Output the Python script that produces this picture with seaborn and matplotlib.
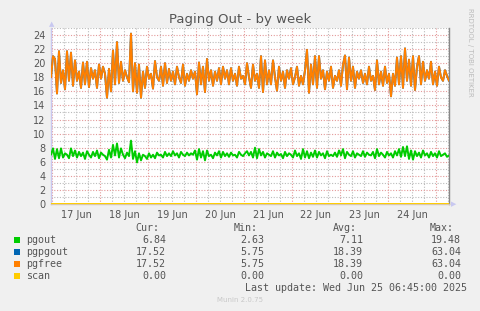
import numpy as np
import pandas as pd
import matplotlib
matplotlib.use("Agg")
import matplotlib.pyplot as plt
import matplotlib.dates as mdates
from matplotlib.ticker import MultipleLocator
import seaborn as sns

# ---- data (hourly samples) ----
start_time = "2025-06-16 23:30"
n_samples = 200

pgfree = [
    18.0, 21.0, 20.6, 15.7, 21.7, 17.2, 19.0, 16.3, 21.7, 17.5,
    21.5, 16.8, 20.4, 17.5, 18.8, 16.5, 20.1, 17.0, 20.2, 16.6,
    19.3, 17.8, 19.0, 16.5, 19.8, 17.8, 19.5, 18.5, 15.1, 19.2,
    16.0, 21.8, 17.0, 23.0, 17.2, 20.2, 17.5, 19.0, 18.0, 17.3,
    24.2, 16.0, 20.0, 15.8, 19.8, 15.1, 18.8, 16.5, 19.5, 17.8,
    18.5, 16.4, 20.3, 18.0, 17.5, 19.5, 16.8, 20.0, 17.2, 19.2,
    17.5, 18.8, 17.0, 19.5, 18.0, 17.2, 19.8, 16.8, 18.5, 17.5,
    19.0, 17.8, 18.8, 15.6, 20.1, 17.0, 19.5, 15.9, 20.6, 17.5,
    19.0, 16.8, 18.8, 17.5, 19.3, 17.0, 19.5, 17.8, 19.0, 17.0,
    19.3, 17.5, 18.5, 16.8, 19.5, 17.8, 18.2, 17.0, 20.0, 18.0,
    16.5, 19.8, 17.5, 18.5, 16.5, 21.0, 15.9, 20.4, 17.0, 19.0,
    17.0, 20.4, 18.0, 16.1, 19.5, 17.5, 18.8, 16.5, 19.0, 17.8,
    19.3, 17.0, 18.0, 19.5, 16.8, 18.2, 17.0, 19.0, 21.9, 15.8,
    19.8, 17.0, 21.0, 16.5, 21.0, 17.8, 19.0, 16.3, 18.8, 17.5,
    19.5, 16.5, 18.2, 17.5, 19.0, 16.8, 19.8, 21.1, 16.3, 20.8,
    17.5, 19.5, 16.5, 18.8, 17.8, 19.0, 17.2, 18.5, 17.0, 19.5,
    17.5, 18.2, 16.2, 20.4, 17.0, 18.8, 16.8, 19.5, 17.2, 18.5,
    15.3, 18.5, 16.8, 20.8, 17.0, 21.0, 16.5, 22.1, 17.5, 20.5,
    16.8, 21.0, 16.2, 19.5, 21.0, 17.0, 20.2, 17.5, 19.0, 17.8,
    20.2, 17.0, 18.8, 16.8, 19.5, 18.0, 17.5, 19.0, 18.2, 17.5,
]
pgpgout = list(pgfree)

pgout = [
    7.0, 7.9, 6.4, 7.8, 6.5, 7.9, 6.6, 7.2, 7.0, 6.5,
    7.9, 6.8, 7.6, 6.6, 7.4, 6.8, 7.3, 6.4, 7.5, 7.0,
    6.6, 7.4, 6.8, 7.6, 6.5, 7.3, 7.0, 6.8, 6.3, 7.7,
    6.6, 8.4, 6.9, 8.6, 6.6, 7.9, 7.0, 6.5, 7.3, 6.8,
    9.0, 6.4, 7.5, 5.9, 7.2, 6.2, 7.0, 6.8, 6.4, 7.2,
    6.6, 7.0, 6.5, 7.3, 6.9, 7.0, 6.6, 7.4, 6.8, 7.2,
    6.8, 7.5, 6.9, 7.2, 6.6, 7.4, 7.0, 6.8, 7.3, 6.9,
    7.2, 7.0, 7.6, 6.3, 7.8, 6.6, 7.5, 6.2, 7.6, 6.8,
    7.0, 6.5, 7.3, 6.9, 7.5, 6.6, 7.4, 6.8, 7.2, 6.7,
    7.3, 6.9, 7.0, 6.6, 7.4, 7.0, 6.8, 7.2, 7.5, 6.9,
    7.4, 6.6, 8.0, 6.5, 7.8, 6.9, 7.4, 6.6, 7.2, 7.0,
    6.8, 7.5, 6.6, 7.3, 6.9, 7.1, 6.5, 7.4, 6.8, 7.2,
    7.0, 6.6, 7.6, 6.8, 7.2, 6.4, 7.8, 6.6, 7.5, 6.5,
    7.3, 6.7, 7.6, 6.6, 7.4, 6.9, 7.2, 6.5, 7.5, 6.8,
    7.0, 6.8, 7.3, 6.7, 7.6, 6.9, 7.8, 6.5, 7.4, 7.0,
    6.8, 7.5, 6.6, 7.2, 7.0, 6.8, 7.5, 6.7, 7.3, 7.0,
    6.9, 7.4, 6.5, 7.8, 6.8, 7.3, 7.0, 6.6, 7.4, 6.9,
    7.2, 6.6, 7.5, 6.9, 7.8, 6.7, 8.1, 6.8, 8.2, 6.4,
    7.6, 6.3, 7.5, 6.8, 7.3, 6.6, 7.6, 6.9, 7.2, 6.6,
    7.4, 6.8, 7.2, 6.6, 7.5, 6.8, 7.0, 7.2, 6.7, 6.9,
]
scan = [0.0] * n_samples

series_names = ["pgout", "pgpgout", "pgfree", "scan"]
series_colors = ["#00CC00", "#0066B3", "#FF8000", "#FFCC00"]
cur_vals = ["6.84", "17.52", "17.52", "0.00"]
min_vals = ["2.63", "5.75", "5.75", "0.00"]
avg_vals = ["7.11", "18.39", "18.39", "0.00"]
max_vals = ["19.48", "63.04", "63.04", "0.00"]
day_labels = ["17 Jun", "18 Jun", "19 Jun", "20 Jun", "21 Jun", "22 Jun", "23 Jun", "24 Jun"]
y_ticks = list(range(0, 25, 2))

title = "Paging Out - by week"
last_update = "Last update: Wed Jun 25 06:45:00 2025"

# ---- build table ----
times = pd.date_range(start_time, periods=n_samples, freq="1h")
df = pd.concat([
    pd.DataFrame({"time": times, "value": scan, "series": "scan"}),
    pd.DataFrame({"time": times, "value": pgpgout, "series": "pgpgout"}),
    pd.DataFrame({"time": times, "value": pgfree, "series": "pgfree"}),
    pd.DataFrame({"time": times, "value": pgout, "series": "pgout"}),
])

sns.set_style("white")
plt.rcParams["font.family"] = ["DejaVu Sans"]

BG = "#F0F0F0"
TXT = "#555555"
fig = plt.figure(figsize=(4.81, 3.11), dpi=100, facecolor=BG)
ax = fig.add_axes([51 / 481, 1 - 204 / 311, 398 / 481, (204 - 28) / 311])
ax.set_facecolor("white")

palette = dict(zip(series_names, series_colors))
for name in ["scan", "pgpgout", "pgfree", "pgout"]:
    sub = df[df["series"] == name]
    sns.lineplot(data=sub, x="time", y="value", color=palette[name],
                 linewidth=1.4, ax=ax, legend=False, zorder=3)

t0 = times[0]
t1 = times[-1]
ax.set_xlim(t0, t1)
ax.set_ylim(0, 25)

# grid
day_starts = pd.date_range("2025-06-17", periods=9, freq="1D")
ax.xaxis.set_major_locator(mdates.HourLocator(byhour=[0]))
ax.xaxis.set_minor_locator(mdates.HourLocator(byhour=[6, 12, 18]))
ax.yaxis.set_major_locator(MultipleLocator(2))
ax.yaxis.set_minor_locator(MultipleLocator(1))
ax.grid(which="minor", color="#BBBBBB", linestyle=(0, (1, 1.5)), linewidth=0.8, zorder=0)
ax.grid(which="major", color="#E39A9A", linestyle=(0, (1, 1.5)), linewidth=0.8, zorder=1)
ax.set_axisbelow(True)

ax.set_yticks(y_ticks)
ax.set_yticklabels([str(v) for v in y_ticks], color=TXT, fontsize=7)
ax.tick_params(axis="both", which="both", length=0, pad=4)
ax.set_xticklabels([])
for i, lab in enumerate(day_labels):
    noon = day_starts[i] + pd.Timedelta(hours=12)
    ax.text(mdates.date2num(noon), -0.9, lab, ha="center", va="top",
            color=TXT, fontsize=7)
ax.set_xlabel("")
ax.set_ylabel("")

ax.spines["top"].set_visible(False)
ax.spines["left"].set_color("#C8C8F0")
ax.spines["bottom"].set_color("#D8C8B0")
ax.spines["right"].set_color("#888888")
for s in ["left", "bottom", "right"]:
    ax.spines[s].set_linewidth(1.0)

# axis arrows
fig.text(51.5 / 481, 1 - 24 / 311, "\u25B2", color="#C8C8F0", fontsize=5, ha="center", va="center")
fig.text(454 / 481, 1 - 204 / 311, "\u25B6", color="#C8C8F0", fontsize=5, ha="center", va="center")

# title and side text
fig.text(240 / 481, 1 - 19 / 311, title, ha="center", va="center", color=TXT, fontsize=9.5)
fig.text(470 / 481, 1 - 52 / 311, "RRDTOOL / TOBI OETIKER", rotation=270, ha="center", va="center",
         color="#BBBBBB", fontsize=5)

# legend table
mono = "DejaVu Sans Mono"
fs = 7.2
hdr_y = 228
fig.text(159 / 481, 1 - hdr_y / 311, "Cur:", ha="right", va="center", family=mono, fontsize=fs, color=TXT)
fig.text(258 / 481, 1 - hdr_y / 311, "Min:", ha="right", va="center", family=mono, fontsize=fs, color=TXT)
fig.text(357 / 481, 1 - hdr_y / 311, "Avg:", ha="right", va="center", family=mono, fontsize=fs, color=TXT)
fig.text(454 / 481, 1 - hdr_y / 311, "Max:", ha="right", va="center", family=mono, fontsize=fs, color=TXT)
row_y = [240, 252, 264, 276]
for name, col, c, mn, av, mx, yy in zip(series_names, series_colors, cur_vals, min_vals,
                                        avg_vals, max_vals, row_y):
    yf = 1 - yy / 311
    fig.patches.append(plt.Rectangle((14 / 481, yf - 3 / 311), 6 / 481, 6 / 311,
                                     transform=fig.transFigure, facecolor=col,
                                     edgecolor="none", figure=fig))
    fig.text(26 / 481, yf, name, ha="left", va="center", family=mono, fontsize=fs, color=TXT)
    fig.text(166 / 481, yf, c, ha="right", va="center", family=mono, fontsize=fs, color=TXT)
    fig.text(264 / 481, yf, mn, ha="right", va="center", family=mono, fontsize=fs, color=TXT)
    fig.text(363 / 481, yf, av, ha="right", va="center", family=mono, fontsize=fs, color=TXT)
    fig.text(461 / 481, yf, mx, ha="right", va="center", family=mono, fontsize=fs, color=TXT)
fig.text(467 / 481, 1 - 288 / 311, last_update, ha="right", va="center", family=mono,
         fontsize=fs, color=TXT)
fig.text(240 / 481, 1 - 300 / 311, "Munin 2.0.75", ha="center", va="center",
         fontsize=5, color="#C8C8C8")

fig.savefig("out.png", dpi=100, facecolor=BG)
